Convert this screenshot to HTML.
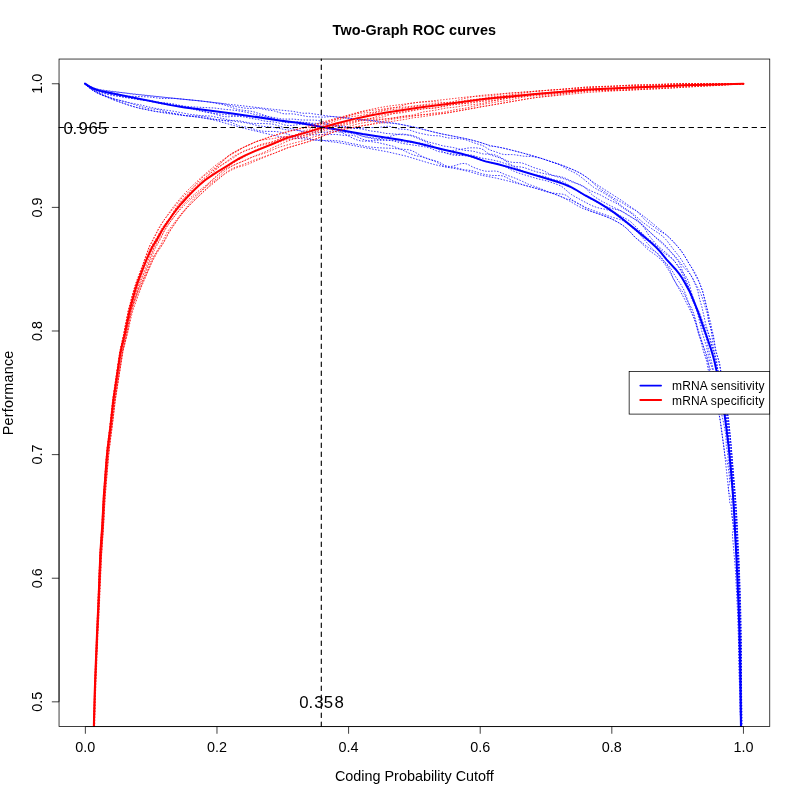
<!DOCTYPE html><html><head><meta charset="utf-8"><style>html,body{margin:0;padding:0;background:#fff;}svg{display:block;will-change:transform;}text{font-family:"Liberation Sans",Arial,sans-serif;}</style></head><body>
<svg width="800" height="800" viewBox="0 0 800 800">
<rect x="0" y="0" width="800" height="800" fill="#fff"/>
<defs><clipPath id="pc"><rect x="59.04" y="59.04" width="710.72" height="667.52"/></clipPath></defs>
<path d="M741.86,729.99 L741.21,640.91 L740.58,604.87 L739.38,567.84 L736.68,514.86 L735.38,495.85 L731.07,443.87 L728.71,420.94 L728.05,415.93 L724.71,396.15 L722.75,381.14 L719.88,367.33 L718.63,360.36 L715.38,348.53 L713.59,336.26 L711.66,328.43 L710.76,323.41 L702.66,291.45 L698.08,279.06 L696.34,275.28 L694.71,272.39 L689.48,264.30 L684.74,256.19 L681.73,251.61 L678.19,247.16 L671.03,239.28 L667.33,235.80 L662.92,232.01 L648.05,219.60 L641.46,214.51 L621.87,200.63 L595.09,183.46 L585.30,176.37 L581.19,173.73 L577.77,171.87 L573.41,169.81 L562.95,165.60 L537.85,157.27 L521.46,152.65 L504.35,148.34 L489.33,145.31 L477.25,141.48 L470.67,139.77 L463.38,138.16 L441.89,133.93 L434.09,132.13 L414.12,127.07 L395.79,123.45 L387.76,122.21 L379.67,121.49 L375.79,120.81 L362.14,119.61 L329.04,116.16 L308.39,113.11 L305.24,113.29 L302.13,113.16 L292.98,111.34 L273.30,109.35 L199.50,100.85 L132.16,94.06 L126.23,93.12 L104.36,90.29 L98.54,89.31 L94.78,88.30 L92.04,87.27 L88.51,85.52 L85.10,83.46" fill="none" stroke="#0000ff" stroke-width="0.75" stroke-dasharray="0.75,2.25" stroke-linecap="round" clip-path="url(#pc)"/>
<path d="M741.47,729.99 L741.28,675.95 L740.35,623.91 L740.12,600.87 L739.11,571.86 L738.08,554.87 L736.33,518.89 L733.89,484.91 L728.79,436.08 L727.81,424.09 L727.06,418.11 L724.86,405.22 L723.48,394.31 L719.48,375.63 L716.16,365.08 L713.77,353.22 L710.42,339.49 L705.71,324.15 L701.97,307.29 L699.73,299.47 L697.86,291.18 L696.39,287.07 L692.75,278.50 L691.20,275.75 L689.91,273.96 L683.82,267.30 L677.90,259.57 L675.30,256.47 L672.79,253.86 L668.74,250.10 L663.45,244.55 L656.12,238.16 L648.87,231.11 L642.18,225.00 L639.32,222.03 L634.65,216.52 L632.53,214.36 L630.14,212.53 L624.08,208.72 L617.99,204.29 L615.23,202.69 L608.68,199.53 L600.54,195.01 L591.11,190.97 L583.71,186.75 L564.48,177.82 L560.45,176.60 L554.29,175.67 L552.33,175.18 L549.55,174.01 L545.08,171.47 L542.33,170.20 L533.71,167.58 L525.35,164.11 L522.51,163.14 L519.53,162.63 L512.25,162.36 L509.27,161.75 L505.51,160.17 L498.96,156.53 L494.07,154.67 L490.30,154.07 L485.73,154.13 L482.90,153.90 L474.04,151.39 L470.87,150.90 L463.64,150.22 L453.84,147.63 L443.03,145.91 L437.28,144.22 L428.54,142.03 L415.34,136.46 L412.38,135.48 L410.35,135.07 L401.11,134.67 L395.10,134.06 L386.04,133.44 L378.16,131.86 L370.25,130.91 L362.49,129.13 L354.61,128.12 L346.68,126.64 L342.67,126.19 L332.56,125.84 L329.60,125.35 L323.81,123.93 L320.88,123.49 L311.77,123.24 L303.77,122.30 L299.74,122.07 L295.66,122.22 L289.53,122.83 L286.51,122.77 L282.57,121.92 L273.00,118.22 L267.19,116.48 L264.24,115.89 L256.31,114.82 L245.59,112.08 L236.68,110.60 L231.69,109.96 L224.68,109.39 L214.75,108.05 L189.69,106.75 L179.79,105.74 L168.77,104.94 L162.81,104.08 L156.92,102.93 L147.19,100.58 L133.38,98.17 L115.93,93.56 L105.10,91.64 L99.27,90.32 L95.49,89.18 L91.84,87.67 L89.22,86.25 L85.03,83.56" fill="none" stroke="#0000ff" stroke-width="0.75" stroke-dasharray="0.75,2.25" stroke-linecap="round" clip-path="url(#pc)"/>
<path d="M740.99,730.00 L740.76,709.99 L740.22,688.98 L739.92,683.98 L739.44,680.99 L738.70,645.98 L737.36,607.99 L735.42,570.03 L732.29,533.12 L733.08,531.08 L733.34,527.06 L732.17,514.10 L731.88,503.12 L731.42,499.14 L730.71,496.18 L729.87,494.24 L728.92,493.30 L724.44,451.66 L719.99,419.09 L718.63,412.41 L712.25,387.17 L711.36,382.36 L708.60,371.88 L706.68,361.29 L703.63,352.12 L700.73,340.74 L695.57,323.50 L693.67,317.79 L691.33,312.41 L684.25,298.50 L675.70,282.67 L673.03,278.13 L670.91,273.92 L665.27,264.66 L663.34,262.16 L660.45,259.07 L655.95,255.21 L649.90,251.05 L647.69,249.30 L639.21,240.93 L634.76,236.93 L630.06,231.79 L627.23,228.98 L623.39,225.78 L619.21,223.00 L613.12,219.66 L606.98,216.95 L599.57,214.18 L586.73,209.99 L582.02,208.10 L577.06,205.53 L565.92,198.81 L562.16,197.09 L553.77,193.70 L532.95,187.53 L506.91,180.68 L495.71,178.01 L481.52,175.28 L469.22,171.62 L464.29,170.41 L456.99,168.93 L443.32,166.55 L436.26,165.03 L429.48,163.18 L406.25,156.16 L387.22,151.74 L360.52,146.91 L341.85,143.21 L335.02,142.14 L327.11,141.32 L322.05,140.16 L318.86,139.93 L313.57,139.93 L303.02,138.84 L287.69,137.71 L280.54,136.73 L269.59,134.38 L240.28,127.38 L217.21,120.84 L209.34,118.96 L197.51,117.04 L176.27,114.62 L165.11,113.11 L153.26,111.03 L138.56,107.98 L129.87,105.54 L117.46,101.25 L115.56,100.56 L109.00,97.60 L99.37,93.92 L95.55,92.00 L91.95,89.73 L84.75,83.96" fill="none" stroke="#0000ff" stroke-width="0.75" stroke-dasharray="0.75,2.25" stroke-linecap="round" clip-path="url(#pc)"/>
<path d="M741.13,730.00 L740.83,693.98 L739.68,633.94 L739.32,602.91 L738.28,577.91 L736.05,534.94 L735.21,521.95 L732.61,497.05 L731.93,487.07 L730.42,478.16 L729.61,469.20 L728.40,461.29 L727.48,452.34 L726.30,445.45 L725.96,437.43 L725.57,433.45 L723.13,420.66 L719.43,404.13 L713.78,385.89 L711.48,374.30 L709.38,366.56 L706.74,355.29 L705.50,351.54 L702.67,344.25 L700.20,335.64 L697.29,327.15 L695.25,320.41 L691.94,312.18 L688.20,301.98 L685.46,293.81 L684.01,290.19 L681.20,284.96 L675.35,276.39 L671.49,269.67 L669.84,267.23 L667.85,265.01 L662.56,260.05 L657.58,253.84 L650.82,247.22 L639.57,234.33 L630.00,225.53 L625.93,222.60 L622.46,220.54 L619.58,219.34 L610.57,216.75 L605.03,214.63 L598.38,212.42 L585.81,207.55 L573.65,200.92 L571.27,199.29 L567.96,196.51 L565.84,195.18 L564.19,194.57 L562.36,194.16 L553.02,193.04 L548.38,191.77 L537.19,187.33 L528.68,184.36 L520.45,180.44 L514.90,178.07 L505.57,174.73 L499.22,171.93 L497.39,171.35 L494.55,171.02 L487.32,171.36 L483.97,170.91 L480.63,169.95 L475.48,168.15 L472.77,167.03 L467.90,164.41 L466.16,163.78 L464.28,163.47 L462.27,163.51 L460.18,163.88 L453.84,165.87 L451.75,166.33 L449.68,166.50 L447.65,166.28 L444.69,165.25 L439.99,162.61 L437.17,161.34 L430.38,159.55 L423.79,157.14 L416.99,155.96 L413.21,154.91 L410.51,153.81 L402.56,150.02 L393.14,146.22 L378.59,142.72 L371.63,141.70 L367.68,140.83 L361.84,138.99 L356.15,136.33 L353.26,135.38 L350.26,135.16 L344.16,135.43 L338.24,134.64 L335.25,134.44 L328.15,134.65 L320.91,134.53 L313.55,134.92 L310.57,134.78 L306.81,133.84 L299.43,130.62 L295.69,129.34 L292.81,128.72 L282.87,127.25 L275.08,124.74 L272.14,124.04 L266.11,123.60 L252.98,123.42 L249.02,122.91 L241.20,121.17 L237.27,120.57 L234.28,120.42 L226.26,120.52 L210.34,119.11 L198.48,117.17 L184.51,115.58 L178.43,114.05 L168.33,112.50 L159.62,109.84 L156.65,109.39 L151.63,108.98 L147.68,108.33 L140.87,106.66 L131.28,103.57 L115.81,99.27 L103.35,95.04 L97.59,92.53 L92.95,90.04 L89.52,87.72 L84.79,83.91" fill="none" stroke="#0000ff" stroke-width="0.75" stroke-dasharray="0.75,2.25" stroke-linecap="round" clip-path="url(#pc)"/>
<path d="M740.55,730.01 L740.60,720.00 L740.43,716.00 L740.05,713.00 L738.44,637.98 L738.83,635.97 L739.06,632.96 L739.13,621.95 L738.68,602.94 L737.93,590.95 L737.71,580.94 L736.77,559.95 L735.04,539.00 L733.01,523.07 L731.46,514.14 L731.24,507.16 L730.83,505.19 L729.87,503.26 L728.33,487.35 L729.07,485.29 L729.45,482.25 L729.45,478.23 L728.99,473.26 L727.90,465.36 L727.15,461.41 L726.10,458.50 L725.13,457.60 L723.57,444.76 L720.46,422.02 L719.28,415.26 L717.67,408.55 L717.65,407.53 L718.08,406.42 L718.19,405.37 L718.14,403.33 L717.73,400.33 L713.25,379.97 L712.30,377.15 L709.66,370.61 L707.64,361.04 L704.97,352.73 L702.81,344.21 L699.37,335.92 L698.18,332.13 L695.92,321.24 L694.05,314.52 L692.80,310.81 L691.56,308.12 L687.58,301.18 L684.34,294.38 L682.15,291.20 L677.01,285.10 L673.03,278.13 L670.28,270.76 L668.45,267.20 L661.21,257.19 L658.63,254.21 L655.59,251.86 L648.11,247.36 L641.85,242.46 L636.19,238.32 L634.72,236.98 L628.66,230.36 L625.73,227.65 L623.39,225.78 L619.21,223.00 L613.12,219.66 L605.15,216.23 L591.23,211.36 L589.54,210.62 L582.03,205.78 L571.76,200.27 L569.14,199.44 L566.62,199.11 L557.92,195.38 L550.14,192.70 L535.84,188.35 L523.29,184.93 L512.98,181.02 L505.89,177.16 L503.15,176.04 L500.24,175.56 L492.57,175.49 L486.54,174.77 L481.94,173.80 L474.29,171.32 L471.46,170.60 L463.56,169.66 L454.48,167.34 L447.49,167.02 L445.43,166.69 L442.46,165.62 L436.92,162.36 L434.16,160.98 L426.51,158.56 L423.71,157.45 L414.87,152.06 L411.23,150.48 L408.47,149.72 L392.79,148.38 L378.86,147.80 L368.77,146.94 L364.77,146.25 L357.77,144.64 L350.77,143.38 L343.11,141.61 L338.22,140.95 L329.30,140.34 L320.88,140.73 L314.58,140.05 L307.07,137.83 L304.24,137.41 L297.50,136.86 L294.72,136.38 L284.15,133.09 L279.15,131.90 L275.12,131.49 L263.93,131.30 L258.96,130.69 L256.04,129.91 L249.31,127.63 L242.42,126.58 L239.49,125.93 L231.01,122.41 L227.17,121.21 L223.27,120.40 L214.39,119.20 L204.55,116.64 L200.59,116.18 L189.69,115.86 L183.48,115.40 L167.29,112.54 L155.23,111.41 L141.49,108.65 L134.68,106.99 L126.99,104.59 L111.75,99.16 L101.26,94.97 L96.44,92.68 L92.76,90.48 L89.39,87.95 L84.74,83.98" fill="none" stroke="#0000ff" stroke-width="0.75" stroke-dasharray="0.75,2.25" stroke-linecap="round" clip-path="url(#pc)"/>
<path d="M741.56,729.99 L741.28,703.98 L740.65,671.96 L740.61,639.92 L738.52,576.90 L736.62,539.92 L734.97,513.95 L733.43,499.00 L732.72,486.00 L730.79,460.04 L728.75,443.14 L727.64,427.14 L726.64,419.19 L720.80,395.77 L718.10,386.10 L715.37,377.52 L713.60,370.77 L708.35,348.60 L706.24,337.76 L705.28,334.92 L701.93,326.56 L699.11,315.88 L695.98,307.45 L693.92,299.65 L692.90,296.81 L681.38,271.86 L678.75,267.33 L675.23,262.10 L673.37,259.68 L670.73,256.91 L666.48,253.10 L659.19,247.10 L655.55,243.45 L649.65,236.38 L647.89,233.81 L644.67,228.31 L642.04,225.16 L638.96,222.48 L633.30,218.21 L623.84,212.35 L621.01,210.98 L618.96,210.24 L610.46,208.10 L606.53,206.78 L591.19,199.35 L579.12,192.21 L567.45,184.27 L563.92,182.20 L562.04,181.44 L560.08,180.91 L553.09,179.61 L544.63,176.46 L533.66,174.74 L527.81,173.32 L525.01,172.21 L518.72,168.80 L515.05,167.10 L501.75,162.39 L496.86,160.95 L491.94,159.87 L481.40,158.03 L473.71,155.67 L470.74,154.99 L466.61,154.80 L460.30,155.34 L457.23,155.39 L453.23,155.06 L450.26,154.54 L445.45,152.96 L437.16,148.85 L428.72,145.47 L424.92,144.14 L421.02,143.23 L417.00,142.82 L406.91,142.35 L397.06,140.73 L392.06,140.34 L374.90,140.25 L364.55,141.24 L360.50,140.87 L357.53,140.11 L353.68,138.63 L338.85,130.95 L335.05,129.37 L330.18,128.08 L321.31,126.65 L313.65,124.13 L309.71,123.29 L298.73,122.00 L295.69,122.00 L289.59,122.36 L286.59,122.16 L275.81,119.73 L268.05,117.50 L265.08,117.04 L262.07,116.91 L253.95,117.02 L245.02,115.90 L242.01,115.71 L237.95,115.84 L228.75,116.82 L225.75,116.72 L222.79,116.32 L218.89,115.39 L212.10,113.18 L209.16,112.43 L198.31,110.57 L188.54,108.03 L178.66,106.48 L167.01,103.48 L157.05,102.30 L136.29,98.92 L125.34,97.58 L104.78,93.16 L98.93,91.57 L94.20,89.71 L89.80,87.24 L84.90,83.75" fill="none" stroke="#0000ff" stroke-width="0.75" stroke-dasharray="0.75,2.25" stroke-linecap="round" clip-path="url(#pc)"/>
<path d="M741.86,729.99 L741.31,682.96 L741.36,658.94 L741.16,641.91 L740.41,614.90 L738.56,562.87 L737.10,537.89 L736.34,517.89 L735.43,503.88 L730.30,436.91 L728.69,420.94 L728.02,415.93 L720.36,378.53 L717.31,367.90 L716.00,359.94 L713.33,347.04 L711.24,330.71 L708.92,319.83 L707.16,313.04 L701.88,296.41 L700.31,292.48 L698.80,289.53 L688.38,270.87 L681.83,260.38 L678.73,255.90 L673.19,249.07 L667.22,241.06 L664.03,237.51 L659.77,233.97 L652.02,228.95 L642.94,222.49 L633.09,213.65 L623.69,207.49 L611.91,198.27 L602.26,192.00 L595.69,188.53 L593.23,186.98 L580.88,176.91 L577.82,174.67 L574.65,172.80 L566.64,168.84 L558.82,164.28 L540.71,158.18 L532.83,156.60 L523.55,156.19 L514.48,154.71 L511.33,154.55 L505.98,154.62 L502.81,154.29 L500.73,153.75 L495.70,151.86 L490.37,150.14 L488.20,149.03 L484.60,146.60 L481.90,145.29 L474.34,143.01 L468.24,140.63 L465.21,139.67 L458.95,138.62 L448.01,137.92 L439.35,135.85 L432.21,135.54 L429.18,135.19 L418.24,132.92 L409.18,129.92 L406.11,129.39 L400.00,129.04 L398.00,128.74 L392.17,126.89 L390.20,126.43 L387.13,126.31 L377.79,127.51 L368.76,127.61 L355.54,128.57 L351.47,128.55 L348.46,128.21 L342.51,127.17 L328.80,123.99 L325.93,123.17 L320.35,121.06 L317.46,120.37 L313.40,120.10 L302.09,120.02 L293.03,119.10 L283.97,119.10 L279.99,118.73 L272.12,117.34 L268.21,116.46 L252.76,111.53 L238.84,109.70 L235.90,108.91 L229.11,106.47 L223.24,104.71 L209.50,102.04 L197.46,100.62 L173.06,98.27 L165.96,98.55 L160.88,98.45 L148.94,96.90 L126.64,96.16 L121.64,95.66 L116.69,94.88 L105.91,92.67 L97.32,89.94 L93.63,88.50 L90.95,87.22 L85.03,83.55" fill="none" stroke="#0000ff" stroke-width="0.75" stroke-dasharray="0.75,2.25" stroke-linecap="round" clip-path="url(#pc)"/>
<path d="M741.55,729.99 L740.51,631.92 L738.66,576.89 L737.33,552.91 L736.30,540.94 L735.36,526.96 L734.88,512.95 L733.68,493.96 L732.90,484.99 L732.13,471.99 L730.64,454.02 L728.48,438.13 L726.48,420.22 L723.51,403.43 L721.92,391.53 L719.52,379.72 L717.77,369.84 L716.76,361.85 L716.21,358.84 L715.34,355.91 L712.47,348.37 L709.59,337.65 L708.01,332.90 L706.42,329.21 L702.83,321.99 L699.48,312.55 L698.04,309.87 L693.16,302.11 L691.43,298.52 L690.52,295.68 L688.79,287.61 L687.94,284.64 L684.40,276.12 L680.20,264.72 L678.60,261.84 L676.74,259.24 L668.53,248.97 L664.03,244.02 L661.51,241.76 L654.85,236.49 L646.01,228.28 L640.94,223.30 L638.54,221.37 L629.68,216.31 L621.09,210.87 L611.58,206.39 L601.70,201.18 L597.34,198.57 L592.32,195.01 L590.10,192.87 L586.06,188.45 L583.81,186.59 L582.11,185.53 L579.23,184.26 L571.84,181.91 L565.08,179.16 L554.22,175.88 L536.60,171.90 L524.29,167.66 L521.33,167.07 L515.26,166.39 L513.31,165.89 L510.55,164.61 L505.34,160.80 L502.62,159.12 L499.71,157.89 L491.90,155.42 L489.31,154.34 L487.77,153.38 L483.41,149.78 L480.69,148.56 L476.35,147.86 L470.67,147.79 L467.34,148.14 L458.53,149.75 L453.23,150.42 L449.10,150.58 L445.06,150.26 L441.11,149.54 L437.29,148.32 L434.53,147.00 L426.42,142.23 L417.08,137.99 L411.25,135.84 L405.26,134.34 L402.24,134.02 L399.15,134.18 L393.89,135.28 L383.27,138.33 L380.20,138.63 L377.20,138.42 L364.28,136.61 L361.35,135.82 L355.62,133.65 L351.77,132.46 L340.99,130.23 L332.22,128.00 L328.30,127.21 L318.33,126.23 L308.49,124.45 L305.50,124.09 L301.43,124.21 L292.23,125.44 L287.19,125.43 L284.21,124.87 L278.39,122.87 L275.46,122.14 L265.46,121.24 L258.62,119.62 L251.71,118.49 L244.86,116.97 L237.88,116.29 L230.01,114.93 L221.05,114.19 L208.12,112.60 L204.20,111.70 L193.55,108.29 L183.73,106.30 L174.02,104.01 L170.07,103.45 L161.06,102.64 L150.28,100.41 L141.19,99.95 L138.20,99.61 L125.42,97.16 L114.46,95.84 L107.58,94.50 L99.77,92.39 L94.98,90.54 L90.53,87.99 L84.87,83.78" fill="none" stroke="#0000ff" stroke-width="0.75" stroke-dasharray="0.75,2.25" stroke-linecap="round" clip-path="url(#pc)"/>
<path d="M741.32,730.00 L740.64,664.96 L740.21,652.95 L740.03,640.94 L739.42,626.94 L739.21,602.92 L738.04,564.90 L736.91,544.91 L732.91,493.02 L731.10,476.09 L728.59,443.16 L725.62,420.33 L724.12,413.48 L721.40,402.78 L719.18,393.00 L712.06,368.02 L709.34,359.61 L706.36,346.12 L701.69,330.89 L697.57,313.24 L694.34,303.80 L692.69,297.99 L689.35,283.86 L687.90,280.05 L685.88,276.43 L675.84,262.95 L673.17,259.88 L670.28,257.31 L663.77,252.67 L661.35,250.70 L654.90,244.17 L646.33,237.19 L637.67,228.81 L632.07,222.94 L629.76,221.02 L627.20,219.41 L614.57,212.78 L609.96,210.69 L606.00,209.49 L599.78,208.23 L596.82,207.45 L593.11,206.12 L589.60,204.52 L582.36,200.72 L571.82,194.83 L568.93,192.71 L562.99,187.39 L561.32,186.27 L558.68,184.97 L547.43,181.07 L537.67,178.78 L518.49,173.05 L513.84,171.15 L503.87,166.09 L499.19,164.25 L496.26,163.56 L488.30,162.49 L474.05,157.79 L469.26,156.46 L439.51,151.85 L436.66,150.89 L430.13,148.10 L426.28,147.01 L402.68,143.47 L393.96,141.10 L390.05,140.28 L385.08,139.71 L378.06,139.42 L374.09,138.86 L366.21,137.27 L356.51,134.34 L349.65,132.91 L343.70,132.19 L333.67,131.70 L330.63,131.75 L323.38,132.34 L318.19,132.26 L310.15,131.82 L298.44,130.63 L287.63,130.01 L271.69,127.09 L259.66,126.07 L246.01,122.79 L234.16,121.27 L225.44,119.12 L211.72,116.24 L208.70,115.94 L201.65,115.71 L189.86,114.33 L173.74,111.27 L162.72,109.66 L154.84,108.24 L148.96,107.02 L140.21,104.85 L131.36,103.17 L122.61,100.99 L113.81,99.09 L109.95,97.95 L99.46,93.56 L94.69,91.30 L90.27,88.47 L84.76,83.95" fill="none" stroke="#0000ff" stroke-width="0.75" stroke-dasharray="0.75,2.25" stroke-linecap="round" clip-path="url(#pc)"/>
<path d="M741.86,729.99 L741.18,659.94 L741.20,644.92 L740.74,612.89 L738.88,558.84 L738.21,547.85 L737.12,522.86 L735.90,502.84 L731.29,448.90 L729.06,427.97 L727.50,416.01 L726.33,404.96 L723.62,387.15 L721.60,377.25 L720.36,367.23 L719.82,364.28 L719.02,361.33 L716.02,352.55 L714.11,341.44 L712.59,334.49 L711.55,330.60 L708.64,322.04 L708.13,319.05 L707.96,312.76 L707.78,311.74 L703.57,294.59 L702.31,290.37 L699.55,282.99 L694.60,273.76 L692.11,268.33 L688.88,263.31 L684.74,256.19 L682.31,252.44 L679.63,248.86 L674.46,242.93 L671.03,239.28 L667.33,235.80 L665.46,234.29 L659.59,230.97 L647.35,222.02 L643.59,218.46 L638.80,212.95 L636.52,210.97 L634.82,209.88 L628.26,206.77 L621.89,202.55 L613.36,197.94 L607.41,193.66 L598.47,187.65 L593.89,183.81 L589.43,179.39 L585.30,176.37 L581.19,173.73 L577.77,171.87 L573.41,169.81 L562.95,165.60 L537.85,157.27 L521.46,152.65 L509.53,149.58 L501.08,147.62 L494.82,146.43 L490.56,146.27 L489.18,145.81 L487.90,144.95 L480.60,142.52 L470.67,139.77 L463.38,138.16 L441.89,133.93 L434.09,132.13 L414.12,127.07 L398.77,124.00 L392.74,123.31 L381.52,122.66 L378.57,122.16 L370.90,120.41 L366.97,120.09 L361.08,120.10 L355.30,118.88 L331.98,116.49 L323.05,117.19 L307.79,116.63 L294.68,114.09 L290.65,113.81 L285.66,113.89 L282.72,113.59 L274.08,110.86 L266.19,109.77 L259.33,108.28 L256.31,108.16 L249.16,108.51 L244.16,108.04 L232.22,105.99 L222.38,103.50 L198.48,100.73 L172.09,98.17 L105.27,90.82 L99.41,89.82 L93.77,88.18 L89.30,86.13 L85.05,83.52" fill="none" stroke="#0000ff" stroke-width="0.75" stroke-dasharray="0.75,2.25" stroke-linecap="round" clip-path="url(#pc)"/>
<path d="M85.00,83.60 L89.17,86.34 L92.66,88.25 L96.33,89.75 L100.15,90.88 L107.97,92.59 L170.77,105.13 L184.58,107.44 L199.48,109.19 L232.24,113.39 L277.77,120.16 L299.58,123.07 L309.45,124.71 L323.21,127.34 L343.96,130.68 L362.67,134.01 L388.39,137.95 L403.20,140.36 L411.07,141.82 L418.88,143.57 L445.13,149.99 L460.73,153.55 L469.44,155.85 L473.25,157.04 L481.70,160.13 L485.49,161.35 L498.15,164.28 L506.84,166.62 L554.78,180.95 L559.53,182.49 L563.29,183.86 L567.93,185.72 L571.56,187.36 L575.07,189.26 L585.32,195.49 L594.15,200.18 L599.37,203.14 L607.88,208.39 L614.52,212.85 L620.09,217.09 L635.69,229.63 L650.95,242.57 L656.13,247.27 L660.20,251.66 L666.44,259.43 L675.28,268.95 L679.64,274.42 L681.88,277.71 L684.42,282.01 L688.75,289.90 L691.39,295.28 L695.21,304.53 L698.43,312.93 L708.08,340.30 L710.89,348.85 L713.17,356.53 L714.66,362.34 L717.87,376.99 L719.96,387.80 L724.81,416.41 L726.50,429.30 L728.65,447.18 L731.24,473.07 L732.66,491.03 L733.91,509.00 L736.94,568.96 L738.71,609.95 L739.82,647.95 L741.00,730.00" fill="none" stroke="#0000ff" stroke-width="2" stroke-linejoin="round" stroke-linecap="round" clip-path="url(#pc)"/>
<path d="M743.50,83.68 L699.50,84.03 L684.46,83.61 L656.48,84.83 L635.46,84.99 L626.45,85.37 L607.51,86.95 L591.52,87.48 L573.47,88.85 L556.52,89.67 L546.56,90.37 L533.57,91.56 L520.68,93.50 L489.90,97.33 L469.18,101.05 L463.23,101.85 L455.22,102.31 L444.15,102.48 L434.00,101.76 L429.97,101.70 L420.86,102.08 L415.83,102.62 L408.87,103.66 L396.31,107.31 L384.48,109.58 L374.69,112.07 L371.70,112.45 L361.55,113.06 L354.50,114.17 L350.60,115.15 L336.13,119.43 L326.54,122.70 L318.84,125.03 L309.72,129.24 L302.19,131.88 L296.67,134.41 L293.85,135.47 L289.90,136.25 L280.50,137.22 L272.44,138.71 L264.28,139.62 L260.30,140.45 L257.36,141.23 L254.52,142.37 L240.46,148.83 L232.93,152.84 L229.19,155.24 L227.54,156.53 L223.50,160.77 L216.69,166.99 L210.17,173.68 L203.44,179.96 L195.79,188.00 L185.57,197.64 L179.97,203.41 L177.38,206.49 L169.45,218.13 L162.77,226.92 L161.19,229.51 L157.04,237.51 L150.63,247.65 L148.46,252.21 L135.95,283.92 L134.07,289.68 L128.24,311.98 L119.95,352.15 L118.47,363.07 L116.86,376.99 L113.10,402.71 L110.31,427.55 L107.36,451.37 L106.27,462.31 L103.13,503.20 L102.01,525.17 L100.68,543.12 L100.10,554.11 L96.77,642.05 L95.18,678.02 L93.91,730.01" fill="none" stroke="#ff0000" stroke-width="0.75" stroke-dasharray="0.75,2.25" stroke-linecap="round" clip-path="url(#pc)"/>
<path d="M743.50,83.73 L712.51,84.41 L676.47,84.54 L669.47,84.75 L655.51,85.70 L627.54,87.17 L616.57,88.01 L604.58,88.63 L585.58,89.23 L556.70,91.88 L542.73,92.79 L525.81,94.55 L513.80,95.10 L501.88,96.42 L492.95,97.62 L467.04,100.13 L450.29,103.17 L441.40,104.58 L438.41,104.82 L429.37,105.05 L422.36,105.53 L407.45,107.51 L399.57,108.86 L388.63,109.96 L382.67,111.01 L367.97,114.33 L350.01,116.95 L343.17,118.49 L337.38,120.17 L328.85,123.39 L321.24,125.96 L312.93,129.55 L308.23,131.23 L294.84,135.31 L284.77,136.84 L281.88,137.88 L276.43,140.51 L273.63,141.55 L261.79,144.16 L258.95,145.17 L252.42,147.94 L243.81,151.08 L240.25,153.09 L232.56,158.53 L223.21,164.05 L215.58,169.07 L203.66,178.60 L194.51,186.64 L188.46,193.46 L182.18,200.00 L176.54,207.11 L174.27,210.47 L169.65,218.26 L163.26,227.24 L159.38,233.13 L153.74,242.43 L151.86,246.01 L148.38,255.46 L143.83,266.56 L137.29,285.44 L133.95,295.88 L129.76,310.28 L127.16,323.01 L123.57,338.60 L121.02,348.28 L120.18,352.19 L117.06,371.96 L113.71,398.76 L110.71,428.61 L107.27,455.37 L104.93,480.26 L103.40,505.21 L102.41,526.19 L100.54,550.12 L99.54,567.10 L97.20,636.06 L95.71,667.03 L94.62,695.01 L93.83,730.00" fill="none" stroke="#ff0000" stroke-width="0.75" stroke-dasharray="0.75,2.25" stroke-linecap="round" clip-path="url(#pc)"/>
<path d="M743.50,83.82 L711.54,85.77 L691.55,86.69 L663.64,88.47 L625.69,90.31 L617.68,90.26 L605.67,90.62 L592.66,90.53 L583.71,90.98 L564.90,93.61 L554.97,95.35 L537.09,97.39 L530.20,98.37 L486.82,105.84 L481.98,106.45 L475.15,107.95 L445.55,113.20 L441.52,113.38 L430.51,114.36 L422.58,114.47 L419.64,114.69 L408.91,116.81 L391.99,119.25 L384.35,121.01 L376.62,122.48 L370.00,124.53 L361.33,125.91 L349.70,128.09 L340.01,130.22 L335.33,131.47 L328.82,133.71 L313.93,139.64 L308.11,141.75 L287.75,147.74 L274.13,153.35 L269.26,154.76 L260.90,157.86 L253.53,160.33 L242.81,164.68 L235.72,167.04 L232.01,168.75 L227.54,171.42 L224.33,173.80 L218.35,178.79 L211.28,183.91 L209.23,185.70 L203.97,191.04 L198.39,196.28 L190.20,204.52 L185.60,209.50 L181.93,213.88 L176.70,220.77 L168.33,232.72 L163.43,242.40 L156.98,251.92 L152.68,259.50 L149.03,268.60 L145.23,276.75 L137.47,294.78 L134.05,304.20 L130.94,314.62 L127.72,331.29 L122.52,352.63 L118.34,379.23 L115.31,399.98 L112.89,420.79 L110.88,434.68 L108.59,455.49 L105.18,495.32 L103.47,527.26 L101.50,555.17 L99.88,588.13 L98.97,613.12 L97.56,640.08 L96.46,667.06 L95.09,703.02 L94.35,730.02" fill="none" stroke="#ff0000" stroke-width="0.75" stroke-dasharray="0.75,2.25" stroke-linecap="round" clip-path="url(#pc)"/>
<path d="M743.50,83.78 L711.52,85.26 L681.54,85.78 L663.56,86.64 L610.65,89.80 L589.66,90.50 L582.72,91.02 L571.80,92.22 L554.83,93.61 L537.87,94.69 L513.04,97.57 L494.23,100.48 L484.51,102.92 L481.60,103.48 L473.69,104.54 L464.72,105.46 L454.89,107.18 L445.89,108.05 L435.05,110.25 L423.23,111.95 L415.58,114.32 L412.66,115.03 L402.75,116.23 L390.88,118.56 L386.97,118.95 L377.06,119.38 L361.18,120.79 L358.30,121.45 L350.68,123.77 L346.79,124.68 L342.85,125.37 L332.92,126.64 L325.31,128.97 L318.56,130.77 L308.10,134.35 L298.48,137.15 L288.25,140.92 L273.80,147.17 L264.02,152.42 L254.80,155.94 L244.95,160.40 L237.78,163.26 L226.94,168.41 L224.32,169.89 L221.89,171.61 L214.55,178.44 L204.87,186.24 L196.97,192.09 L190.25,197.91 L185.91,201.97 L182.54,205.60 L178.81,210.21 L166.47,226.98 L164.05,231.22 L160.33,239.38 L155.87,247.21 L154.24,250.57 L151.45,257.89 L147.52,266.94 L144.07,276.30 L138.23,290.88 L133.05,304.96 L129.88,316.43 L125.17,338.99 L121.81,353.50 L117.66,379.13 L112.87,411.73 L111.45,424.66 L108.20,449.45 L106.77,470.38 L105.39,485.31 L104.21,505.26 L103.40,525.25 L101.91,547.21 L100.43,574.14 L96.54,654.05 L95.20,688.02 L94.25,730.02" fill="none" stroke="#ff0000" stroke-width="0.75" stroke-dasharray="0.75,2.25" stroke-linecap="round" clip-path="url(#pc)"/>
<path d="M743.50,83.80 L674.59,86.96 L651.61,88.44 L639.61,88.75 L625.67,89.84 L588.69,91.08 L557.87,93.88 L546.92,95.11 L528.99,96.24 L523.05,97.16 L508.28,100.29 L497.38,101.86 L477.82,105.29 L466.07,108.02 L454.25,109.84 L443.40,112.28 L432.39,113.26 L424.58,114.67 L419.74,115.34 L414.79,115.79 L405.80,116.25 L384.99,118.95 L381.11,119.56 L374.33,120.98 L359.77,123.44 L354.99,124.63 L345.44,127.51 L334.81,129.64 L331.10,130.96 L323.81,134.21 L320.97,135.09 L313.12,136.99 L304.61,140.48 L293.93,143.04 L278.34,147.46 L267.18,152.25 L261.52,154.19 L252.08,157.09 L244.08,160.85 L235.17,164.46 L231.60,166.25 L227.35,169.10 L223.45,172.32 L216.17,179.08 L208.39,184.63 L194.53,197.89 L190.53,202.21 L185.16,209.12 L180.23,214.95 L168.24,230.48 L165.86,234.46 L160.80,244.57 L154.53,254.93 L151.27,261.04 L145.60,274.75 L137.98,289.79 L134.91,298.22 L132.01,307.77 L130.49,313.51 L125.90,337.09 L122.95,349.72 L121.25,361.46 L114.72,401.90 L111.35,431.72 L108.56,453.49 L105.20,491.31 L103.74,520.25 L101.09,557.15 L99.40,598.12 L96.58,655.05 L94.95,700.02 L94.29,730.02" fill="none" stroke="#ff0000" stroke-width="0.75" stroke-dasharray="0.75,2.25" stroke-linecap="round" clip-path="url(#pc)"/>
<path d="M743.50,83.73 L724.50,84.12 L710.51,84.67 L688.52,85.19 L663.54,86.25 L646.54,86.60 L612.61,89.00 L586.61,89.60 L576.68,90.81 L563.72,91.84 L549.80,93.47 L534.85,94.55 L519.96,96.32 L509.05,97.86 L491.09,99.18 L482.27,100.90 L472.34,102.01 L463.48,103.70 L451.55,104.98 L435.76,107.84 L431.78,108.29 L423.79,108.71 L406.97,110.87 L391.19,113.73 L381.36,115.23 L369.84,118.64 L360.02,120.14 L351.40,122.54 L341.54,124.29 L336.82,125.87 L326.68,130.06 L306.63,136.55 L302.76,137.61 L298.83,138.41 L288.80,139.46 L284.94,140.23 L259.29,148.68 L254.64,150.55 L251.99,151.99 L245.18,156.33 L236.45,161.02 L225.68,168.26 L222.47,170.67 L211.23,180.55 L204.68,187.48 L201.17,190.87 L193.45,196.86 L190.45,199.45 L179.93,209.85 L176.67,213.49 L170.00,222.17 L165.15,229.63 L160.72,237.26 L155.41,245.82 L152.95,251.00 L145.40,270.39 L140.14,282.26 L137.71,288.68 L134.15,299.05 L129.96,313.40 L128.05,321.15 L125.52,333.91 L122.12,347.51 L120.79,354.33 L117.00,382.06 L115.10,393.91 L113.61,404.78 L111.64,423.67 L107.55,454.39 L106.20,471.34 L104.29,501.26 L102.71,531.23 L101.00,554.15 L100.05,573.12 L96.91,647.06 L95.42,678.03 L94.63,700.01 L94.01,730.01" fill="none" stroke="#ff0000" stroke-width="0.75" stroke-dasharray="0.75,2.25" stroke-linecap="round" clip-path="url(#pc)"/>
<path d="M743.50,83.83 L663.64,88.47 L634.66,89.81 L587.78,92.40 L560.00,95.25 L538.08,97.28 L525.27,99.19 L441.58,113.87 L419.01,117.16 L413.09,117.79 L406.26,119.19 L400.28,120.15 L365.14,125.28 L357.51,126.62 L342.89,129.56 L337.19,130.94 L331.61,132.69 L313.93,139.64 L307.15,142.07 L287.75,147.74 L261.19,158.57 L247.89,164.25 L244.29,165.53 L238.01,167.16 L231.56,170.00 L226.99,172.49 L222.27,175.95 L208.41,187.53 L198.53,196.42 L192.24,202.47 L186.90,208.04 L181.93,213.88 L178.56,218.47 L171.86,228.30 L168.44,233.84 L163.24,243.56 L158.39,250.69 L156.53,253.73 L153.28,259.76 L150.70,265.04 L140.71,288.61 L133.33,309.13 L131.49,315.75 L127.34,334.30 L123.85,347.91 L122.59,353.64 L115.31,399.98 L112.21,426.77 L109.35,448.58 L108.36,458.47 L105.01,499.31 L103.51,526.26 L101.61,554.18 L99.63,600.13 L98.12,630.10 L95.59,692.04 L94.58,730.03" fill="none" stroke="#ff0000" stroke-width="0.75" stroke-dasharray="0.75,2.25" stroke-linecap="round" clip-path="url(#pc)"/>
<path d="M743.50,83.67 L683.45,83.47 L633.46,85.06 L585.44,87.16 L558.51,89.52 L506.61,93.37 L490.75,95.70 L468.62,96.82 L443.79,99.66 L417.83,102.37 L388.07,106.18 L380.02,107.49 L368.14,109.98 L357.26,112.56 L327.03,120.81 L306.85,126.53 L283.28,132.68 L264.86,138.39 L253.57,142.77 L245.11,146.58 L237.67,150.24 L232.93,152.84 L228.32,155.85 L216.45,164.62 L209.24,170.50 L202.11,176.63 L189.33,188.65 L183.01,195.27 L177.67,201.45 L172.56,207.88 L167.82,214.53 L161.53,223.64 L158.75,228.06 L149.57,245.92 L142.35,265.99 L136.03,282.88 L133.61,290.59 L128.22,310.95 L125.47,324.71 L123.72,334.54 L119.59,352.08 L112.66,399.62 L109.83,426.49 L107.00,449.31 L105.63,465.27 L103.35,496.19 L101.84,526.16 L99.82,557.10 L95.05,675.01 L94.24,700.00 L93.58,729.99" fill="none" stroke="#ff0000" stroke-width="0.75" stroke-dasharray="0.75,2.25" stroke-linecap="round" clip-path="url(#pc)"/>
<path d="M743.50,83.72 L698.51,84.68 L677.53,85.76 L646.54,86.62 L621.58,88.05 L593.59,89.08 L584.57,89.11 L577.57,89.60 L552.73,92.43 L529.84,94.68 L520.94,96.10 L510.02,97.45 L498.20,99.98 L494.24,100.61 L484.30,101.12 L472.45,102.83 L458.46,103.85 L445.59,105.72 L435.78,107.94 L427.77,108.39 L423.81,108.82 L413.97,110.38 L403.19,112.63 L393.21,113.68 L390.29,114.46 L383.63,116.74 L378.80,117.87 L369.85,118.68 L355.05,120.67 L348.15,121.90 L341.32,123.40 L330.78,126.38 L318.53,130.67 L311.05,133.67 L308.15,134.53 L301.18,135.67 L293.33,137.30 L285.11,137.81 L281.05,138.54 L269.90,142.92 L258.31,146.28 L249.64,149.18 L237.38,154.27 L232.74,156.83 L226.35,161.78 L219.03,166.87 L216.73,168.98 L209.61,176.45 L202.76,182.30 L190.93,193.05 L183.83,201.46 L178.83,206.38 L176.82,208.62 L175.07,211.06 L170.90,217.92 L164.99,225.98 L162.49,230.29 L158.13,239.29 L153.96,247.20 L147.86,260.67 L140.12,281.19 L133.40,300.92 L130.77,309.50 L127.98,321.14 L125.37,334.91 L121.87,349.49 L120.67,355.32 L112.56,406.67 L110.84,424.59 L107.36,454.38 L103.88,496.23 L102.61,526.21 L101.05,548.15 L99.74,576.11 L96.99,645.06 L94.60,697.01 L93.83,730.00" fill="none" stroke="#ff0000" stroke-width="0.75" stroke-dasharray="0.75,2.25" stroke-linecap="round" clip-path="url(#pc)"/>
<path d="M743.50,83.67 L683.45,83.47 L660.46,84.51 L649.50,85.36 L637.49,85.38 L608.49,86.41 L596.49,86.66 L583.42,87.30 L559.50,89.44 L490.64,94.54 L480.56,95.46 L474.58,96.20 L470.69,97.24 L461.86,99.12 L453.10,101.57 L447.19,102.63 L439.24,103.46 L427.25,104.23 L404.35,107.12 L390.36,107.90 L381.36,109.30 L363.27,111.39 L359.30,112.31 L351.59,114.97 L347.74,116.11 L334.02,119.41 L322.56,123.41 L310.11,127.14 L307.22,127.77 L301.26,128.58 L298.31,129.16 L291.51,130.87 L283.47,133.20 L277.13,134.54 L270.49,136.59 L264.15,139.30 L258.29,140.83 L255.47,141.98 L243.25,147.47 L237.99,150.88 L231.30,154.48 L228.54,156.19 L224.70,159.18 L213.26,169.24 L204.98,175.16 L201.01,178.63 L190.66,189.97 L183.83,196.03 L181.01,198.96 L165.06,218.71 L163.33,221.18 L161.23,224.68 L156.75,232.86 L153.27,239.78 L148.78,247.87 L142.70,265.04 L136.03,282.88 L133.61,290.59 L128.22,310.95 L124.71,328.64 L123.55,335.53 L120.81,347.20 L117.79,366.00 L113.17,397.67 L109.06,433.44 L107.00,449.31 L105.71,464.27 L104.78,481.26 L103.79,495.22 L102.27,526.19 L100.14,552.11 L99.38,568.09 L95.26,671.01 L93.65,730.00" fill="none" stroke="#ff0000" stroke-width="0.75" stroke-dasharray="0.75,2.25" stroke-linecap="round" clip-path="url(#pc)"/>
<path d="M93.75,730.00 L94.45,700.01 L95.26,676.02 L97.13,630.05 L98.52,600.08 L100.20,556.11 L100.63,548.13 L102.19,526.18 L103.76,496.22 L106.59,459.33 L107.62,448.38 L110.39,426.55 L113.34,399.72 L119.54,358.18 L120.52,352.26 L121.56,347.37 L124.60,334.74 L129.46,311.24 L131.20,304.46 L135.19,290.00 L137.67,282.41 L143.04,268.40 L146.00,260.97 L149.99,251.80 L152.65,246.46 L157.37,238.85 L162.72,229.27 L165.46,225.09 L172.33,215.26 L176.48,209.63 L181.58,203.47 L186.91,197.50 L193.14,191.02 L199.69,184.85 L205.00,180.31 L209.02,177.36 L217.34,171.82 L227.61,165.63 L234.29,161.27 L237.72,159.24 L245.76,155.21 L254.88,151.12 L272.49,143.98 L282.60,139.68 L288.24,137.66 L308.43,131.90 L326.58,126.28 L336.18,123.50 L357.52,118.15 L370.24,115.47 L385.00,112.81 L419.60,107.56 L445.40,104.26 L484.05,99.08 L532.81,94.24 L559.73,92.09 L582.62,89.88 L589.60,89.41 L632.56,87.38 L659.54,86.40 L683.52,85.30 L715.51,84.57 L743.50,83.75" fill="none" stroke="#ff0000" stroke-width="2" stroke-linejoin="round" stroke-linecap="round" clip-path="url(#pc)"/>
<rect x="59.04" y="59.04" width="710.72" height="667.52" fill="none" stroke="#000" stroke-width="0.75"/>
<line x1="85.36" y1="726.56" x2="743.44" y2="726.56" stroke="#000" stroke-width="0.75"/>
<line x1="59.04" y1="701.84" x2="59.04" y2="83.76" stroke="#000" stroke-width="0.75"/>
<line x1="85.36" y1="726.56" x2="85.36" y2="733.76" stroke="#000" stroke-width="0.75"/>
<text x="85.36" y="751.5" font-size="14.4" text-anchor="middle">0.0</text>
<line x1="216.98" y1="726.56" x2="216.98" y2="733.76" stroke="#000" stroke-width="0.75"/>
<text x="216.98" y="751.5" font-size="14.4" text-anchor="middle">0.2</text>
<line x1="348.59" y1="726.56" x2="348.59" y2="733.76" stroke="#000" stroke-width="0.75"/>
<text x="348.59" y="751.5" font-size="14.4" text-anchor="middle">0.4</text>
<line x1="480.21" y1="726.56" x2="480.21" y2="733.76" stroke="#000" stroke-width="0.75"/>
<text x="480.21" y="751.5" font-size="14.4" text-anchor="middle">0.6</text>
<line x1="611.82" y1="726.56" x2="611.82" y2="733.76" stroke="#000" stroke-width="0.75"/>
<text x="611.82" y="751.5" font-size="14.4" text-anchor="middle">0.8</text>
<line x1="743.44" y1="726.56" x2="743.44" y2="733.76" stroke="#000" stroke-width="0.75"/>
<text x="743.44" y="751.5" font-size="14.4" text-anchor="middle">1.0</text>
<line x1="59.04" y1="701.84" x2="51.84" y2="701.84" stroke="#000" stroke-width="0.75"/>
<text transform="translate(41.6,701.84) rotate(-90)" font-size="14.4" text-anchor="middle">0.5</text>
<line x1="59.04" y1="578.22" x2="51.84" y2="578.22" stroke="#000" stroke-width="0.75"/>
<text transform="translate(41.6,578.22) rotate(-90)" font-size="14.4" text-anchor="middle">0.6</text>
<line x1="59.04" y1="454.61" x2="51.84" y2="454.61" stroke="#000" stroke-width="0.75"/>
<text transform="translate(41.6,454.61) rotate(-90)" font-size="14.4" text-anchor="middle">0.7</text>
<line x1="59.04" y1="330.99" x2="51.84" y2="330.99" stroke="#000" stroke-width="0.75"/>
<text transform="translate(41.6,330.99) rotate(-90)" font-size="14.4" text-anchor="middle">0.8</text>
<line x1="59.04" y1="207.38" x2="51.84" y2="207.38" stroke="#000" stroke-width="0.75"/>
<text transform="translate(41.6,207.38) rotate(-90)" font-size="14.4" text-anchor="middle">0.9</text>
<line x1="59.04" y1="83.76" x2="51.84" y2="83.76" stroke="#000" stroke-width="0.75"/>
<text transform="translate(41.6,83.76) rotate(-90)" font-size="14.4" text-anchor="middle">1.0</text>
<text x="414.40" y="35" font-size="14.4" font-weight="bold" letter-spacing="0.12" text-anchor="middle">Two-Graph ROC curves</text>
<text x="414.40" y="780.6" font-size="14.4" text-anchor="middle">Coding Probability Cutoff</text>
<text transform="translate(13.4,392.80) rotate(-90)" font-size="14.4" letter-spacing="0.22" text-anchor="middle">Performance</text>
<line x1="321.3" y1="726.56" x2="321.3" y2="59.04" stroke="#000" stroke-width="1.125" stroke-dasharray="4.5,4.5" stroke-linecap="round"/>
<line x1="59.04" y1="127.48" x2="769.76" y2="127.48" stroke="#000" stroke-width="1.125" stroke-dasharray="4.5,4.5" stroke-linecap="round"/>
<text x="63.39 72.47 78.41 88.45 97.88" y="133.6" font-size="16.8">0.965</text>
<text x="299.29 308.47 314.16 323.83 334.42" y="707.6" font-size="16.8">0.358</text>
<rect x="629.15" y="371.4" width="140.5" height="42.7" fill="#fff" stroke="#000" stroke-width="0.75"/>
<line x1="640.3" y1="385.6" x2="661.1" y2="385.6" stroke="#0000ff" stroke-width="1.7" stroke-linecap="round"/>
<line x1="640.3" y1="400.1" x2="661.1" y2="400.1" stroke="#ff0000" stroke-width="2" stroke-linecap="round"/>
<text x="672" y="389.8" font-size="12" letter-spacing="0.16">mRNA sensitivity</text>
<text x="672" y="404.6" font-size="12" letter-spacing="0.16">mRNA specificity</text>
</svg></body></html>
